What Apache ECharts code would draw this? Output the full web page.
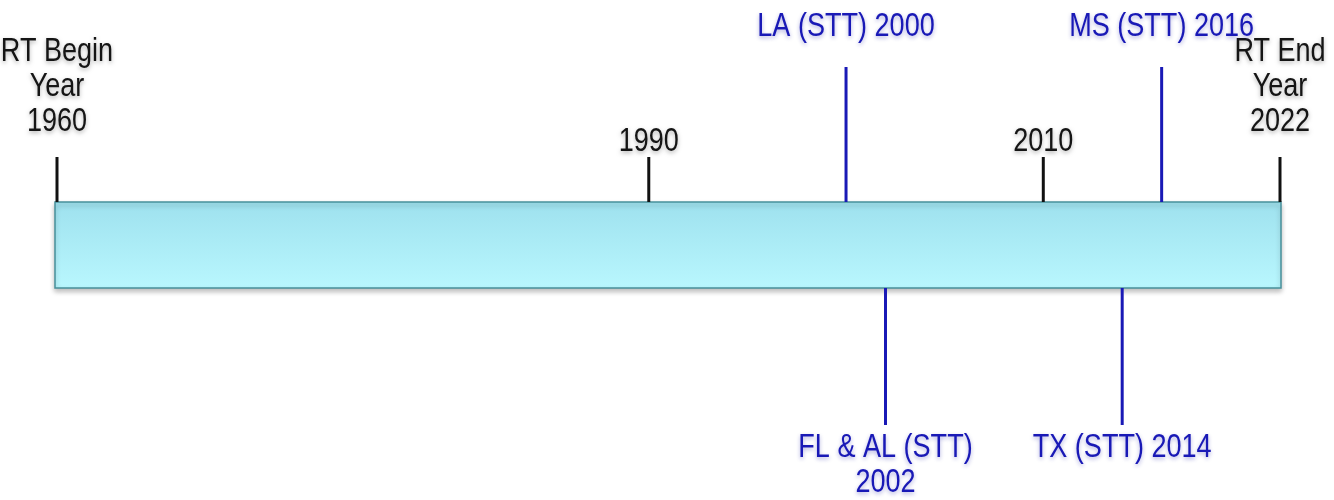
<!DOCTYPE html>
<html>
<head>
<meta charset="utf-8">
<script src="https://cdn.jsdelivr.net/npm/echarts@6/dist/echarts.min.js"></script>
<style>
  html, body { margin: 0; padding: 0; background: #fff; }
  #timeline { width: 1334px; height: 500px; }
</style>
</head>
<body>
<div id="timeline"></div>
<script>
// span of the RT record
const rangeYears = [1960, 2022];
// black ticks sitting on the bar
const tickYears = [1960, 1990, 2010, 2022];
const tickLabels = ["RT Begin\nYear\n1960", "1990", "2010", "RT End\nYear\n2022"];
// STT events, above or below the bar
const eventYears = [2000, 2002, 2014, 2016];
const eventLabels = ["LA (STT) 2000", "FL & AL (STT)\n2002", "TX (STT) 2014", "MS (STT) 2016"];
const eventSides = ["up", "down", "down", "up"];

const FONT = '"Liberation Sans", Arial, sans-serif';
const NARROW = 0.82; // no condensed font installed, squeeze the text instead
const BLUE = "#1919b6";
const BAR_TOP = 202;
const BAR_BOTTOM = 288;

let chart = echarts.init(document.getElementById("timeline"));

function label(text, x, y, vAlign, color, shadow) {
  return {
    type: "text",
    x: x,
    y: y,
    scaleX: NARROW,
    style: {
      text: text,
      x: 0,
      y: 0,
      align: "center",
      verticalAlign: vAlign,
      fontSize: 33,
      fontFamily: FONT,
      lineHeight: 35,
      fill: color,
      textShadowColor: shadow,
      textShadowBlur: 4,
      textShadowOffsetY: 2
    }
  };
}

function barItem(params, api) {
  let x0 = api.coord([api.value(0), 0])[0];
  let x1 = api.coord([api.value(1), 0])[0];
  return {
    type: "rect",
    shape: { x: x0 - 2, y: BAR_TOP, width: x1 - x0 + 3, height: BAR_BOTTOM - BAR_TOP },
    style: {
      fill: new echarts.graphic.LinearGradient(0, 0, 0, 1, [
        { offset: 0, color: "#9ee1ee" },
        { offset: 1, color: "#b9f7fe" }
      ]),
      stroke: "#47909b",
      lineWidth: 1.5,
      shadowBlur: 5,
      shadowOffsetY: 3,
      shadowColor: "rgba(0,0,0,0.25)"
    }
  };
}

function tickItem(params, api) {
  let x = api.coord([api.value(0), 0])[0];
  let i = api.value(1);
  // the two end labels stand a bit higher than the middle ones
  let isEnd = i === 0 || i === tickYears.length - 1;
  return {
    type: "group",
    children: [
      {
        type: "line",
        shape: { x1: x, y1: 157, x2: x, y2: BAR_TOP },
        style: { stroke: "#111", lineWidth: 3 }
      },
      label(tickLabels[i], x, isEnd ? 139 : 159, "bottom", "#151515", "rgba(0,0,0,0.3)")
    ]
  };
}

function eventItem(params, api) {
  let x = api.coord([api.value(0), 0])[0];
  let i = api.value(1);
  let up = eventSides[i] === "up";
  return {
    type: "group",
    children: [
      {
        type: "line",
        shape: up
          ? { x1: x, y1: 67, x2: x, y2: BAR_TOP }
          : { x1: x, y1: BAR_BOTTOM, x2: x, y2: 425 },
        style: { stroke: BLUE, lineWidth: 3 }
      },
      label(eventLabels[i], x, up ? 44 : 430, up ? "bottom" : "top", BLUE, "rgba(20,20,160,0.35)")
    ]
  };
}

let option = {
  animation: false,
  grid: { left: 57, right: 54, top: 0, bottom: 0 },
  xAxis: { type: "value", min: rangeYears[0], max: rangeYears[1], show: false },
  yAxis: { type: "value", min: 0, max: 1, show: false },
  series: [
    { type: "custom", renderItem: barItem, data: [rangeYears], z: 1 },
    { type: "custom", renderItem: tickItem, data: tickYears.map((y, i) => [y, i]), z: 2 },
    { type: "custom", renderItem: eventItem, data: eventYears.map((y, i) => [y, i]), z: 3 }
  ]
};
chart.setOption(option);
</script>
</body>
</html>
